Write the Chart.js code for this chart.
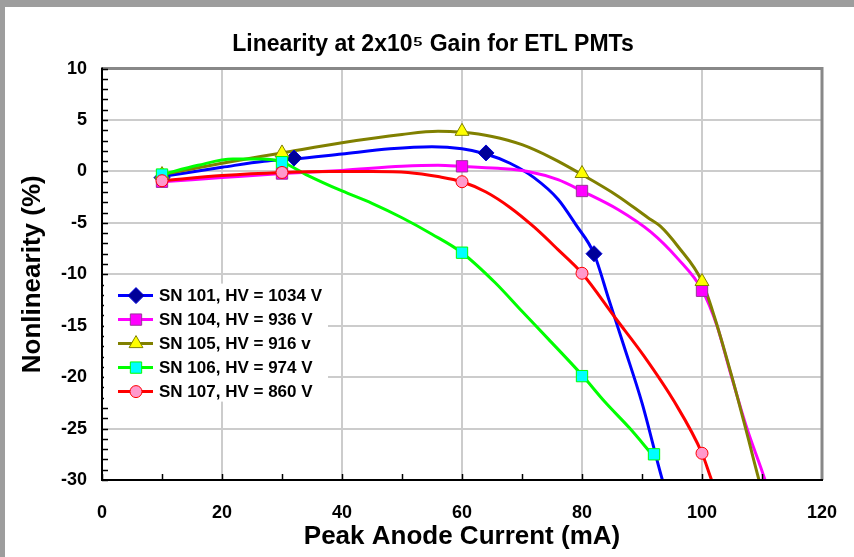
<!DOCTYPE html>
<html><head><meta charset="utf-8">
<script src="https://cdn.jsdelivr.net/npm/chart.js@4/dist/chart.umd.min.js"></script>
<style>html,body{margin:0;padding:0;background:#9d9d9d;overflow:hidden}canvas{display:block}</style>
</head><body><canvas id="c" width="854" height="557"></canvas>
<script>
// ---- data ----
const seriesLabels = ['SN 101, HV = 1034 V','SN 104, HV = 936 V','SN 105, HV = 916 v','SN 106, HV = 974 V','SN 107, HV = 860 V'];
const xTickLabels = [0, 20, 40, 60, 80, 100, 120];
const yTickLabels = [-30, -25, -20, -15, -10, -5, 0, 5, 10];

// measured points (markers)
const sn101MarkX = [10, 32, 64, 82];
const sn101MarkY = [-0.6, 1.3, 1.8, -8.0];
const sn104MarkX = [10, 30, 60, 80, 100];
const sn104MarkY = [-1.0, -0.2, 0.5, -1.9, -11.6];
const sn105MarkX = [10, 30, 60, 80, 100];
const sn105MarkY = [-0.3, 1.8, 3.9, -0.2, -10.7];
const sn106MarkX = [10, 30, 60, 80, 92];
const sn106MarkY = [-0.3, 0.9, -7.9, -19.9, -27.5];
const sn107MarkX = [10, 30, 60, 80, 100];
const sn107MarkY = [-0.9, -0.1, -1.0, -9.9, -27.4];

// fitted curves
const sn101CurveX = [10, 20, 27, 32, 40, 48, 55, 60, 64, 68, 72, 76, 79, 82, 84.5, 87, 90, 93.4, 95];
const sn101CurveY = [-0.5, 0.4, 1.0, 1.2, 1.7, 2.2, 2.4, 2.2, 1.7, 0.8, -0.6, -2.7, -5.2, -8.0, -12.5, -17, -22.5, -30, -33];
const sn104CurveX = [10, 20, 30, 40, 50, 56, 60, 66, 71, 76, 80, 86, 91.5, 96, 100, 102.5, 104.7, 107.5, 110.5, 112];
const sn104CurveY = [-1.0, -0.6, -0.2, 0.1, 0.5, 0.6, 0.5, 0.3, 0.0, -0.8, -1.9, -3.7, -5.9, -8.5, -11.5, -15, -19.5, -25, -30, -33];
const sn105CurveX = [10, 20, 30, 40, 50, 56, 60, 65, 70, 75, 80, 86, 91, 93, 96, 100, 102, 105, 107.5, 109.5, 111];
const sn105CurveY = [-0.3, 0.8, 1.8, 2.8, 3.6, 3.9, 3.8, 3.4, 2.6, 1.3, -0.3, -2.4, -4.5, -5.3, -7.3, -10.7, -14, -20, -25.5, -30, -33];
const sn106CurveX = [10, 16, 21.8, 26.7, 30, 34, 40, 45, 50, 55, 60, 65.5, 70, 74.4, 80, 83.8, 88, 91.5];
const sn106CurveY = [-0.3, 0.6, 1.2, 1.2, 0.9, -0.3, -1.9, -3.1, -4.5, -6.1, -7.9, -10.8, -13.6, -16.3, -19.8, -22.4, -25, -27.4];
const sn107CurveX = [10, 20, 30, 38, 45, 51, 56, 60, 64, 68, 72, 76, 80, 85.5, 90.4, 95.4, 100, 101.6, 103];
const sn107CurveY = [-0.9, -0.4, -0.1, 0.0, 0.0, -0.1, -0.5, -1.0, -2.0, -3.5, -5.4, -7.6, -9.9, -14.2, -18, -22.4, -27.4, -30, -32];

// ---- styles ----
const FONT = "'Liberation Sans', Arial, sans-serif";
const styles = [
  {line:'#0000ff', fill:'#000099', edge:'#0000dd', shape:'rectRot', r:8},
  {line:'#ff00ff', fill:'#ff00ff', edge:'#993399', shape:'rect', r:8},
  {line:'#808000', fill:'#ffff00', edge:'#808000', shape:'triangle', r:8},
  {line:'#00ff00', fill:'#00ffff', edge:'#00ff00', shape:'rect', r:8},
  {line:'#ff0000', fill:'#ff99cc', edge:'#ff0000', shape:'circle', r:6}
];
const zip = (xs, ys) => xs.map((x, i) => ({x, y: ys[i]}));
const marks = [zip(sn101MarkX, sn101MarkY), zip(sn104MarkX, sn104MarkY), zip(sn105MarkX, sn105MarkY), zip(sn106MarkX, sn106MarkY), zip(sn107MarkX, sn107MarkY)];
const curves = [zip(sn101CurveX, sn101CurveY), zip(sn104CurveX, sn104CurveY), zip(sn105CurveX, sn105CurveY), zip(sn106CurveX, sn106CurveY), zip(sn107CurveX, sn107CurveY)];

const datasets = [];
curves.forEach((c, i) => datasets.push({
  label: seriesLabels[i] + ' fit', data: c, showLine: true, borderColor: styles[i].line, yAxisID: 'y',
  borderWidth: 3, pointRadius: 0, cubicInterpolationMode: 'monotone', fill: false, order: 20 - i
}));
marks.forEach((m, i) => datasets.push({
  label: seriesLabels[i], data: m, showLine: false, pointStyle: styles[i].shape, pointRadius: styles[i].r, yAxisID: 'y',
  backgroundColor: styles[i].fill, borderColor: styles[i].edge, pointBorderWidth: 1, order: 10 - i
}));

function drawMarker(ctx, shape, x, y, r, fill, edge) {
  ctx.save(); ctx.beginPath(); ctx.fillStyle = fill; ctx.strokeStyle = edge; ctx.lineWidth = 1;
  if (shape === 'circle') ctx.arc(x, y, r, 0, Math.PI * 2);
  else if (shape === 'rect') { const s = r * Math.SQRT1_2; ctx.rect(x - s, y - s, 2 * s, 2 * s); }
  else if (shape === 'rectRot') { const s = r; ctx.moveTo(x - s, y); ctx.lineTo(x, y + s); ctx.lineTo(x + s, y); ctx.lineTo(x, y - s); ctx.closePath(); }
  else if (shape === 'triangle') { ctx.moveTo(x, y - r); ctx.lineTo(x + r * 0.866, y + r * 0.5); ctx.lineTo(x - r * 0.866, y + r * 0.5); ctx.closePath(); }
  ctx.fill(); ctx.stroke(); ctx.restore();
}

const framePlugin = {
  id: 'frame',
  beforeDraw(chart) {
    const ctx = chart.ctx;
    ctx.save(); ctx.fillStyle = '#9d9d9d'; ctx.fillRect(0, 0, chart.width, chart.height);
    ctx.fillStyle = '#ffffff'; ctx.fillRect(5, 7, chart.width - 5, chart.height - 7); ctx.restore();
  },
  afterDatasetsDraw(chart) {
    const ctx = chart.ctx, a = chart.chartArea, xs = chart.scales.x, ys = chart.scales.y;
    ctx.save();
    ctx.strokeStyle = '#888888'; ctx.lineWidth = 3;
    ctx.beginPath(); ctx.moveTo(a.left, a.top); ctx.lineTo(a.right, a.top); ctx.lineTo(a.right, a.bottom); ctx.stroke();
    ctx.strokeStyle = '#000'; ctx.lineWidth = 2;
    ctx.beginPath(); ctx.moveTo(a.left, a.top - 1); ctx.lineTo(a.left, a.bottom); ctx.lineTo(a.right + 1, a.bottom); ctx.stroke();
    ctx.lineWidth = 1.5;
    for (let v = ys.min; v <= ys.max; v += 1) {
      const y = Math.round(ys.getPixelForValue(v)) + 0.5;
      ctx.beginPath(); ctx.moveTo(a.left, y); ctx.lineTo(a.left + 6, y); ctx.stroke();
    }
    for (let v = xs.min; v < xs.max; v += 10) {
      const x = Math.round(xs.getPixelForValue(v)) + 0.5;
      ctx.beginPath(); ctx.moveTo(x, a.bottom); ctx.lineTo(x, a.bottom - 6); ctx.stroke();
    }
    const lx = a.left + 2, ly = a.top + 215;
    ctx.fillStyle = '#fff'; ctx.fillRect(lx, ly, 224, 118);
    ctx.font = 'bold 17px ' + FONT; ctx.textBaseline = 'middle'; ctx.textAlign = 'left';
    seriesLabels.forEach((t, i) => {
      const y = ly + 12 + i * 24;
      ctx.strokeStyle = styles[i].line; ctx.lineWidth = 3;
      ctx.beginPath(); ctx.moveTo(lx + 14, y); ctx.lineTo(lx + 49, y); ctx.stroke();
      drawMarker(ctx, styles[i].shape, lx + 32, y, styles[i].r, styles[i].fill, styles[i].edge);
      ctx.fillStyle = '#000'; ctx.fillText(t, lx + 55, y + 1);
    });
    ctx.restore();
  }
};

new Chart(document.getElementById('c'), {
  type: 'scatter',
  data: { datasets },
  plugins: [framePlugin],
  options: {
    responsive: false, animation: false, devicePixelRatio: 1,
    layout: { padding: { left: 12, top: 7, right: 0, bottom: 0 } },
    plugins: {
      legend: { display: false }, tooltip: { enabled: false },
      title: { display: true, text: 'Linearity at 2x10\u2075 Gain for ETL PMTs', color: '#000',
        font: { family: FONT, size: 23, weight: 'bold' }, padding: { top: 24, bottom: 10 } }
    },
    scales: {
      x: {
        type: 'linear', min: 0, max: 120,
        afterBuildTicks: s => { s.ticks = xTickLabels.map(v => ({ value: v })); },
        afterFit: s => { s.height = 77; s.paddingLeft = 0; s.paddingRight = 0; },
        grid: { color: c => (c.tick && c.tick.value > 0 && c.tick.value < 120) ? '#cccccc' : 'rgba(0,0,0,0)', lineWidth: 2, drawTicks: false },
        border: { display: false },
        ticks: { color: '#000', font: { family: FONT, size: 18, weight: 'bold' }, padding: 22, maxRotation: 0 },
        title: { display: true, text: 'Peak Anode Current (mA)', color: '#000', font: { family: FONT, size: 26, weight: 'bold' }, padding: { top: 0, bottom: 5 } }
      },
      y: {
        type: 'linear', min: -30, max: 10, position: 'left',
        afterBuildTicks: s => { s.ticks = yTickLabels.map(v => ({ value: v })); },
        afterFit: s => { s.width = 90; },
        grid: { color: c => (c.tick && c.tick.value > -30 && c.tick.value < 10) ? '#cccccc' : 'rgba(0,0,0,0)', lineWidth: 2, drawTicks: false },
        border: { display: false },
        ticks: { color: '#000', font: { family: FONT, size: 18, weight: 'bold' }, padding: 15 },
        title: { display: true, text: 'Nonlinearity (%)', color: '#000', font: { family: FONT, size: 26, weight: 'bold' }, padding: { top: 5, bottom: 0 } }
      },
      yRight: {
        type: 'linear', min: -30, max: 10, position: 'right', display: true,
        afterFit: s => { s.width = 32; },
        grid: { display: false }, border: { display: false }, ticks: { display: false }
      }
    }
  }
});
</script></body></html>
